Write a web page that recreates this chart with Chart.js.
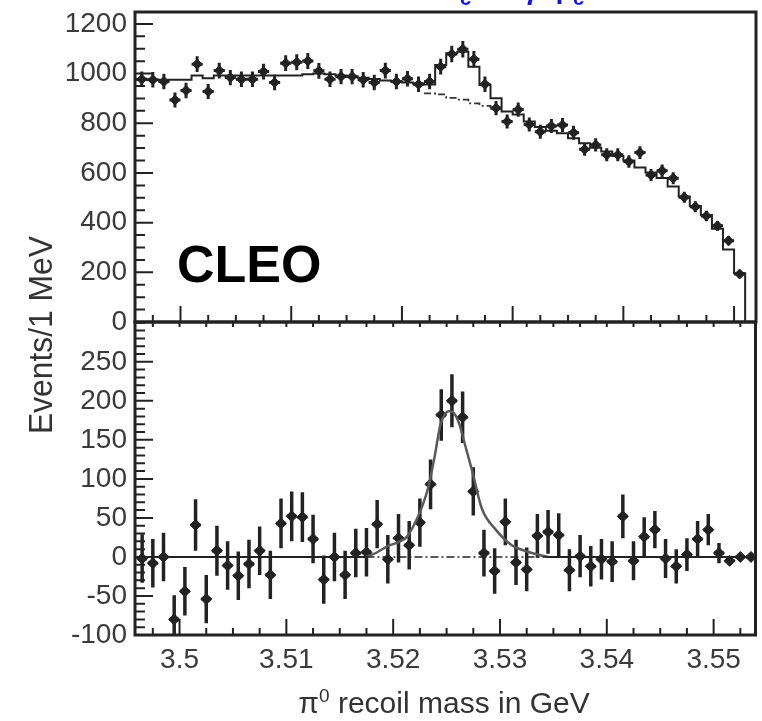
<!DOCTYPE html>
<html>
<head>
<meta charset="utf-8">
<title>CLEO - pi0 recoil mass</title>
<script src="https://cdn.jsdelivr.net/npm/chart.js@4.4.1/dist/chart.umd.min.js"></script>
<style>
  html, body { margin: 0; padding: 0; background: #fff; }
  #wrap { position: relative; width: 762px; height: 721px; overflow: hidden; }
  #wrap canvas { position: absolute; left: 0; top: 0; }
</style>
</head>
<body>
<div id="wrap">
  <canvas id="lower" width="762" height="721"></canvas>
  <canvas id="upper" width="762" height="721"></canvas>
</div>
<script>
// 1 MeV bins (GeV), bin centres
const binCenters = [
  3.4965, 3.4975, 3.4985, 3.4995, 3.5005, 3.5015, 3.5025, 3.5035, 3.5045, 3.5055,
  3.5065, 3.5075, 3.5085, 3.5095, 3.5105, 3.5115, 3.5125, 3.5135, 3.5145, 3.5155,
  3.5165, 3.5175, 3.5185, 3.5195, 3.5205, 3.5215, 3.5225, 3.5235, 3.5245, 3.5255,
  3.5265, 3.5275, 3.5285, 3.5295, 3.5305, 3.5315, 3.5325, 3.5335, 3.5345, 3.5355,
  3.5365, 3.5375, 3.5385, 3.5395, 3.5405, 3.5415, 3.5425, 3.5435, 3.5445, 3.5455,
  3.5465, 3.5475, 3.5485, 3.5495, 3.5505, 3.5515, 3.5525, 3.5535,
];

// upper panel : events / 1 MeV (first 55 bins)
const topCounts = [
  977, 975, 968, 894, 932, 1038, 928, 1012, 984, 977,
  977, 1008, 964, 1042, 1046, 1051, 1011, 977, 988, 988,
  975, 964, 1012, 968, 979, 957, 968, 1028, 1079, 1098,
  1058, 957, 861, 807, 855, 795, 766, 789, 793, 762,
  695, 713, 673, 673, 646, 682, 592, 609, 579, 502,
  464, 427, 387, 327, 193,
];
const topErrors = [
  31, 31, 31, 30, 31, 32, 30, 32, 31, 31,
  31, 32, 31, 32, 32, 32, 32, 31, 31, 31,
  31, 31, 32, 31, 31, 31, 31, 32, 33, 33,
  33, 31, 29, 28, 29, 28, 28, 28, 28, 28,
  26, 27, 26, 26, 25, 26, 24, 25, 24, 22,
  22, 21, 20, 18, 14,
];
// total fit (histogram)
const topFit = [
  975, 975, 975, 975, 975, 992, 981, 992, 992, 992,
  992, 992, 992, 992, 992, 997, 1000, 997, 992, 988,
  983, 978, 972, 968, 964, 960, 956, 1035, 1082, 1088,
  1028, 954, 901, 847, 835, 807, 785, 770, 760, 740,
  720, 702, 686, 668, 650, 622, 602, 580, 545, 505,
  467, 431, 375, 292, 196,
];
// background under the peak (dashed)
const bgBins = [3.5225, 3.5235, 3.5245, 3.5255, 3.5265, 3.5275, 3.5285];
const bgFit = [920, 916, 902, 895, 880, 870, 864];

// lower panel : background subtracted
const residuals = [
  -2, -8, 0, -80, -44, 41, -54, 8, -11, -24,
  -9, 8, -23, 43, 52, 51, 23, -29, 0, -23,
  5, 6, 42, -3, 24, 15, 44, 93, 182, 200,
  179, 84, 5, -18, 45, -7, -16, 27, 32, 28,
  -17, 1, -12, -3, -6, 52, -5, 26, 35, -2,
  -12, 3, 23, 35, 5, -5, 0, 0,
];
const residualErrors = [
  31, 31, 31, 31, 31, 33, 31, 32, 31, 31,
  31, 31, 31, 32, 32, 32, 31, 31, 31, 31,
  31, 31, 31, 31, 31, 31, 31, 32, 33, 34,
  33, 31, 30, 29, 30, 29, 28, 28, 28, 28,
  27, 27, 26, 26, 26, 28, 25, 25, 24, 25,
  22, 21, 23, 20, 13, 4, 0, 0,
];
// signal shape
const sigX = [3.5175, 3.5185, 3.5195, 3.5205, 3.5213, 3.5222, 3.5228, 3.5233, 3.5239, 3.5244, 3.5249,
  3.5253, 3.5257, 3.5262, 3.5267, 3.5274, 3.5283, 3.5296, 3.5311, 3.5323, 3.5333, 3.5345];
const sigY = [0, 6, 14, 19, 26, 48, 68, 90, 130, 168, 184,
  187, 184, 170, 145, 110, 62, 35, 15, 8, 4, 0];

const xTickValues = [3.5, 3.51, 3.52, 3.53, 3.54, 3.55];
const xTickLabels = ['3.5', '3.51', '3.52', '3.53', '3.54', '3.55'];
const topYTicks = [0, 200, 400, 600, 800, 1000, 1200];
const topYLabels = ['0', '200', '400', '600', '800', '1000', '1200'];
const lowYTicks = [-100, -50, 0, 50, 100, 150, 200, 250];
const lowYLabels = ['-100', '-50', '0', '50', '100', '150', '200', '250'];

const FAMILY = "'Liberation Sans', Arial, Helvetica, sans-serif";
const INK = '#222';
const HALF_BIN = 0.0005;
const TICK_FONT = { family: FAMILY, size: 28 };

function steps(from, to, step) {
  const out = [];
  for (let k = 0; ; k++) {
    const v = +(from + k * step).toFixed(6);
    if (v > to + 1e-9) break;
    out.push(v);
  }
  return out;
}

function histLine(centers, values) {
  const pts = [];
  centers.forEach((c, i) => {
    pts.push({ x: c - HALF_BIN, y: values[i] });
    pts.push({ x: c + HALF_BIN, y: values[i] });
  });
  return pts;
}

const errorBars = {
  id: 'errorBars',
  beforeDatasetDraw(chart, args) {
    const ds = chart.data.datasets[args.index];
    if (!ds.errors) return;
    const { ctx, chartArea: a, scales: { x, y } } = chart;
    ctx.save();
    ctx.beginPath();
    ctx.rect(a.left, a.top, a.width, a.height);
    ctx.clip();
    ctx.strokeStyle = INK;
    ctx.lineWidth = ds.barWidth;
    ds.data.forEach((p, i) => {
      const e = ds.errors[i];
      const px = x.getPixelForValue(p.x);
      const py = y.getPixelForValue(p.y);
      ctx.beginPath();
      if (e > 0) {
        ctx.moveTo(px, y.getPixelForValue(p.y + e));
        ctx.lineTo(px, y.getPixelForValue(p.y - e));
      }
      ctx.moveTo(x.getPixelForValue(p.x - ds.halfBar), py);
      ctx.lineTo(x.getPixelForValue(p.x + ds.halfBar), py);
      ctx.stroke();
    });
    ctx.restore();
  },
};

// box around the plot + inward tick marks
const frame = {
  id: 'frame',
  afterDraw(chart, args, o) {
    const { ctx, chartArea: a, scales: { x, y } } = chart;
    const isMajor = (list, v) => list.some((m) => Math.abs(m - v) < 1e-7);
    ctx.save();
    ctx.strokeStyle = INK;
    ctx.lineWidth = 2;
    ctx.beginPath();
    o.yMinor.concat(o.yMajor).forEach((v) => {
      if (v < y.min || v > y.max) return;
      const len = isMajor(o.yMajor, v) ? o.left[0] : o.left[1];
      const py = y.getPixelForValue(v);
      ctx.moveTo(a.left, py); ctx.lineTo(a.left + len, py);
    });
    o.xMinor.concat(o.xMajor).forEach((v) => {
      if (v < x.min || v > x.max) return;
      const major = isMajor(o.xMajor, v);
      const px = x.getPixelForValue(v);
      const lb = major ? o.bottom[0] : o.bottom[1];
      ctx.moveTo(px, a.bottom); ctx.lineTo(px, a.bottom - lb);
      if (o.top) {
        const lt = major ? o.top[0] : o.top[1];
        ctx.moveTo(px, a.top); ctx.lineTo(px, a.top + lt);
      }
    });
    ctx.stroke();
    ctx.lineWidth = 3;
    ctx.strokeRect(a.left, a.top, a.width, a.height);
    ctx.restore();
  },
};

const upperText = {
  id: 'upperText',
  afterDraw(chart) {
    const ctx = chart.ctx;
    ctx.save();
    ctx.fillStyle = '#000';
    ctx.font = `bold 52px ${FAMILY}`;
    ctx.textBaseline = 'alphabetic';
    ctx.fillText('CLEO', 177, 282);
    // title line above the frame, mostly cut off by the page edge
    ctx.fillStyle = '#1414e6';
    ctx.font = `bold 28px ${FAMILY}`;
    ctx.fillText('h', 440, -2);
    ctx.fillText('γ', 523, -1);
    ctx.fillText('η', 546, -2);
    ctx.font = `bold 20px ${FAMILY}`;
    ctx.fillText('c', 460, 5);
    ctx.fillText('c', 573, 5);
    ctx.restore();
  },
};

const lowerText = {
  id: 'lowerText',
  afterDraw(chart) {
    const ctx = chart.ctx;
    ctx.save();
    ctx.fillStyle = '#333';
    // y title, narrow
    ctx.translate(52, 335);
    ctx.rotate(-Math.PI / 2);
    ctx.font = `33px ${FAMILY}`;
    ctx.textAlign = 'center';
    ctx.fillText('Events/1 MeV', 0, 0, 198);
    ctx.setTransform(1, 0, 0, 1, 0, 0);
    // x title with superscript
    const big = `30px ${FAMILY}`;
    const small = `19px ${FAMILY}`;
    ctx.textAlign = 'left';
    ctx.font = big;
    const wPi = ctx.measureText('π').width;
    const wRest = ctx.measureText(' recoil mass in GeV').width;
    ctx.font = small;
    const wSup = ctx.measureText('0').width;
    let xx = 444 - (wPi + wSup + wRest) / 2;
    const base = 713;
    ctx.font = big;
    ctx.fillText('π', xx, base);
    xx += wPi;
    ctx.font = small;
    ctx.fillText('0', xx, base - 11);
    xx += wSup;
    ctx.font = big;
    ctx.fillText(' recoil mass in GeV', xx, base);
    ctx.restore();
  },
};

function yScale(min, max, ticks, labels) {
  return {
    type: 'linear', min, max,
    afterBuildTicks: (s) => { s.ticks = ticks.map((v) => ({ value: v })); },
    ticks: { font: TICK_FONT, color: '#3a3a3a', padding: 8, callback: (v) => labels[ticks.indexOf(v)] },
    grid: { display: false, drawTicks: false },
    border: { display: false },
    afterFit: (s) => { s.width = 135; s.paddingTop = 0; s.paddingBottom = 0; },
  };
}

// ---- upper panel ----
const fitPts = histLine(binCenters.slice(0, topCounts.length), topFit);
fitPts[0].x = 3.495;
fitPts.push({ x: fitPts[fitPts.length - 1].x, y: 0 });

new Chart(document.getElementById('upper'), {
  type: 'scatter',
  data: {
    datasets: [
      { type: 'line', data: fitPts, borderColor: INK, borderWidth: 2, pointRadius: 0, fill: false, clip: 0 },
      { type: 'line', data: histLine(bgBins, bgFit), borderColor: '#333', borderWidth: 1.8,
        borderDash: [7, 3, 2, 3], pointRadius: 0, fill: false },
      { data: topCounts.map((v, i) => ({ x: binCenters[i], y: v })), errors: topErrors, barWidth: 3, halfBar: 0.0005,
        pointStyle: 'rectRot', pointRadius: 5, backgroundColor: INK, borderColor: INK, borderWidth: 1 },
    ],
  },
  options: {
    responsive: false, animation: false, events: [],
    layout: { padding: { left: 0, top: 12, right: 4, bottom: 399 } },
    plugins: {
      legend: { display: false }, tooltip: { enabled: false },
      frame: { left: [18, 10], bottom: [16, 7], top: null,
        xMajor: xTickValues, xMinor: steps(3.4975, 3.55, 0.0025), yMajor: topYTicks, yMinor: steps(50, 1200, 50) },
    },
    scales: {
      x: { type: 'linear', min: 3.49589, max: 3.55198, ticks: { display: false },
        grid: { display: false, drawTicks: false }, border: { display: false },
        afterFit: (s) => { s.height = 0; s.paddingLeft = 0; s.paddingRight = 0; } },
      y: yScale(0, 1248, topYTicks, topYLabels),
    },
  },
  plugins: [errorBars, frame, upperText],
});

// ---- lower panel ----
new Chart(document.getElementById('lower'), {
  type: 'scatter',
  data: {
    datasets: [
      { type: 'line', data: [{ x: 3.49, y: 0 }, { x: sigX[0], y: 0 }], borderColor: INK, borderWidth: 2, pointRadius: 0, clip: 0 },
      { type: 'line', data: [{ x: sigX[sigX.length - 1], y: 0 }, { x: 3.56, y: 0 }], borderColor: INK, borderWidth: 2, pointRadius: 0, clip: 0 },
      { type: 'line', data: [{ x: sigX[0], y: 0 }, { x: sigX[sigX.length - 1], y: 0 }], borderColor: INK, borderWidth: 1.6,
        borderDash: [8, 3, 2, 3], pointRadius: 0 },
      { type: 'line', data: sigX.map((v, i) => ({ x: v, y: sigY[i] })), borderColor: '#5a5a5a', borderWidth: 2.5,
        cubicInterpolationMode: 'monotone', pointRadius: 0 },
      { data: residuals.map((v, i) => ({ x: binCenters[i], y: v })), errors: residualErrors, barWidth: 3.5, halfBar: 0.00045,
        pointStyle: 'rectRot', pointRadius: 5.5, backgroundColor: INK, borderColor: INK, borderWidth: 1 },
    ],
  },
  options: {
    responsive: false, animation: false, events: [],
    layout: { padding: { left: 0, top: 322, right: 4, bottom: 0 } },
    plugins: {
      legend: { display: false }, tooltip: { enabled: false },
      frame: { left: [18, 10], bottom: [16, 7], top: [5, 5],
        xMajor: xTickValues, xMinor: steps(3.4975, 3.5525, 0.0025), yMajor: lowYTicks, yMinor: steps(-90, 300, 10) },
    },
    scales: {
      x: { type: 'linear', min: 3.49583, max: 3.55392,
        afterBuildTicks: (s) => { s.ticks = xTickValues.map((v) => ({ value: v })); },
        ticks: { font: TICK_FONT, color: '#3a3a3a', padding: 8, maxRotation: 0,
          callback: (v) => xTickLabels[xTickValues.indexOf(v)] },
        grid: { display: false, drawTicks: false }, border: { display: false },
        afterFit: (s) => { s.height = 86; s.paddingLeft = 0; s.paddingRight = 0; } },
      y: yScale(-100, 301, lowYTicks, lowYLabels),
    },
  },
  plugins: [errorBars, frame, lowerText],
});
</script>
</body>
</html>
